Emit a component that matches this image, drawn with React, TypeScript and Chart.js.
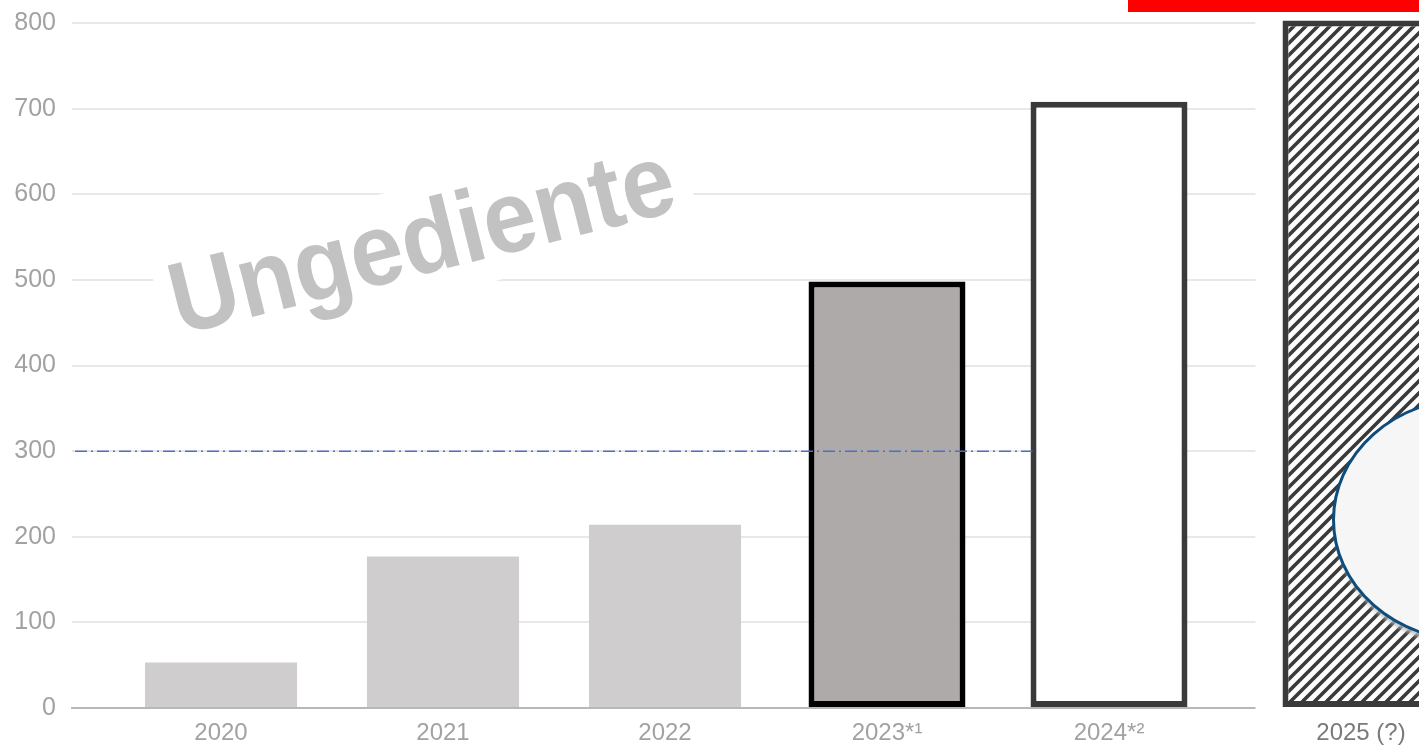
import React, { useEffect, useRef } from "react";
import { Chart, registerables } from "chart.js";

Chart.register(...registerables);

// ---- data ----
const CATEGORIES = ["2020", "2021", "2022", "2023*¹", "2024*²", "2025 (?)"];
const X_POSITIONS = [0, 1, 2, 3, 4, 5.135];
const REPORTED = [53, 177, 214, null, null, null];
const ESTIMATE_2023 = [null, null, null, 498, null, null];
const ESTIMATE_2024 = [null, null, null, null, 708, null];
const FORECAST_2025 = [null, null, null, null, null, 803];
const Y_MIN = 0;
const Y_MAX = 800;
const Y_STEP = 100;
const REFERENCE_LEVEL = 300;
const WATERMARK = "Ungediente";

function toPoints(values: (number | null)[]) {
  return X_POSITIONS.map((x, i) => ({ x, y: values[i] })).filter((p) => p.y !== null);
}

function makeHatch(): CanvasPattern | string {
  const size = 12;
  const c = document.createElement("canvas");
  c.width = size;
  c.height = size;
  const g = c.getContext("2d");
  if (!g) return "#888";
  g.fillStyle = "#ffffff";
  g.fillRect(0, 0, size, size);
  g.strokeStyle = "#3a3a3a";
  g.lineWidth = 3.6;
  g.beginPath();
  g.moveTo(-size / 2, size / 2);
  g.lineTo(size / 2, -size / 2);
  g.moveTo(0, size);
  g.lineTo(size, 0);
  g.moveTo(size / 2, size * 1.5);
  g.lineTo(size * 1.5, size / 2);
  g.stroke();
  return g.createPattern(c, "repeat") || "#888";
}

const decorPlugin = {
  id: "decor",
  beforeDatasetsDraw(chart: any) {
    const { ctx, chartArea } = chart;
    const bar = chart.getDatasetMeta(3).data[0];
    ctx.save();
    if (bar) {
      const left = bar.x - bar.width / 2 - 27;
      ctx.fillStyle = "#ffffff";
      ctx.fillRect(left, 0, chart.width - left, chartArea.bottom + 3);
    }
    // watermark
    const cx = chartArea.left + 348;
    const cy = chartArea.top + 219;
    ctx.translate(cx, cy);
    ctx.rotate((-14 * Math.PI) / 180);
    ctx.fillStyle = "#ffffff";
    ctx.fillRect(-268, -56, 545, 112);
    ctx.scale(0.93, 1);
    ctx.font = 'bold 102px "Liberation Sans", Arial, sans-serif';
    ctx.fillStyle = "#c2c2c2";
    ctx.textAlign = "left";
    ctx.textBaseline = "alphabetic";
    ctx.fillText(WATERMARK, -256 / 0.93, 32);
    ctx.restore();
  },
  afterDatasetsDraw(chart: any) {
    const { ctx, chartArea, scales } = chart;
    const y = scales.y.getPixelForValue(REFERENCE_LEVEL);
    const bar24 = chart.getDatasetMeta(2).data[0];
    const end = bar24 ? bar24.x - bar24.width / 2 + 2 : chartArea.right;
    ctx.save();
    ctx.strokeStyle = "#4a72c4";
    ctx.lineWidth = 1.5;
    ctx.setLineDash([12, 4, 2, 4]);
    ctx.beginPath();
    ctx.moveTo(chartArea.left + 3, y);
    ctx.lineTo(end, y);
    ctx.stroke();
    ctx.restore();
  },
  afterDraw(chart: any) {
    const { ctx, scales } = chart;
    ctx.save();
    // red banner
    ctx.fillStyle = "#ff0000";
    ctx.fillRect(chart.width - 291, 0, 291, 12);
    // ellipse callout
    const bar = chart.getDatasetMeta(3).data[0];
    if (bar) {
      const ex = bar.x - bar.width / 2 + 188;
      const ey = scales.y.getPixelForValue(220);
      ctx.beginPath();
      ctx.ellipse(ex, ey, 137, 121, 0, 0, Math.PI * 2);
      ctx.shadowColor = "rgba(190,190,190,0.9)";
      ctx.shadowBlur = 4;
      ctx.shadowOffsetX = 2;
      ctx.shadowOffsetY = 6;
      ctx.fillStyle = "#f6f6f6";
      ctx.fill();
      ctx.shadowColor = "transparent";
      ctx.lineWidth = 3;
      ctx.strokeStyle = "#0e4d7b";
      ctx.stroke();
    }
    ctx.restore();
  },
};

export default function App() {
  const ref = useRef<HTMLCanvasElement | null>(null);

  useEffect(() => {
    if (!ref.current) return;
    const hatch = makeHatch();
    const xMin = -0.6712;
    const xMax = xMin + (1419 - 72) / 222;
    const chart = new Chart(ref.current, {
      type: "bar",
      data: {
        datasets: [
          {
            label: "reported",
            data: toPoints(REPORTED) as any,
            backgroundColor: "#cfcdce",
            borderWidth: 0,
            barPercentage: 0.685,
            categoryPercentage: 1,
            grouped: false,
          },
          {
            label: "2023",
            data: toPoints(ESTIMATE_2023) as any,
            backgroundColor: "#aeaaa9",
            borderColor: "#000000",
            borderWidth: 6,
            borderSkipped: false,
            barPercentage: 0.707,
            categoryPercentage: 1,
            grouped: false,
          },
          {
            label: "2024",
            data: toPoints(ESTIMATE_2024) as any,
            backgroundColor: "#ffffff",
            borderColor: "#3a3a3a",
            borderWidth: 6,
            borderSkipped: false,
            barPercentage: 0.707,
            categoryPercentage: 1,
            grouped: false,
          },
          {
            label: "2025",
            data: toPoints(FORECAST_2025) as any,
            backgroundColor: hatch as any,
            borderColor: "#3a3a3a",
            borderWidth: 6,
            borderSkipped: false,
            barPercentage: 0.707,
            categoryPercentage: 1,
            grouped: false,
            clip: false as any,
          },
        ],
      },
      options: {
        responsive: false,
        animation: false,
        devicePixelRatio: 1,
        layout: { padding: { top: 23, right: 0, bottom: 0, left: 0 } },
        plugins: { legend: { display: false }, tooltip: { enabled: false } },
        scales: {
          x: {
            type: "linear",
            min: xMin,
            max: xMax,
            offset: false,
            afterBuildTicks: (scale: any) => {
              scale.ticks = X_POSITIONS.map((v) => ({ value: v }));
            },
            afterFit: (scale: any) => {
              scale.height = 40;
              scale.paddingLeft = 0;
              scale.paddingRight = 0;
            },
            grid: { display: false, drawTicks: false },
            border: { display: true, color: "#b8b8b8", width: 2 },
            ticks: {
              autoSkip: false,
              maxRotation: 0,
              padding: 11,
              z: 1,
              callback: (_v: any, i: number) => CATEGORIES[i],
              color: (c: any) => (c.index === 5 ? "#7a7a7a" : "#a2a2a2"),
              font: () => ({
                family: '"Liberation Sans", Arial, sans-serif',
                size: 24,
              }),
            },
          },
          y: {
            min: Y_MIN,
            max: Y_MAX,
            afterFit: (scale: any) => {
              scale.width = 72;
              scale.paddingTop = 0;
              scale.paddingBottom = 0;
            },
            grid: { color: "#e8e8e8", lineWidth: 2, drawTicks: false },
            border: { display: false },
            ticks: {
              stepSize: Y_STEP,
              padding: 16,
              color: "#a2a2a2",
              font: { family: '"Liberation Sans", Arial, sans-serif', size: 25 },
            },
          },
        },
      },
      plugins: [decorPlugin],
    });
    return () => chart.destroy();
  }, []);

  return (
    <div style={{ position: "fixed", left: 0, top: 0, width: 1419, height: 748, background: "#fff" }}>
      <canvas ref={ref} width={1419} height={748} style={{ display: "block" }} />
    </div>
  );
}
